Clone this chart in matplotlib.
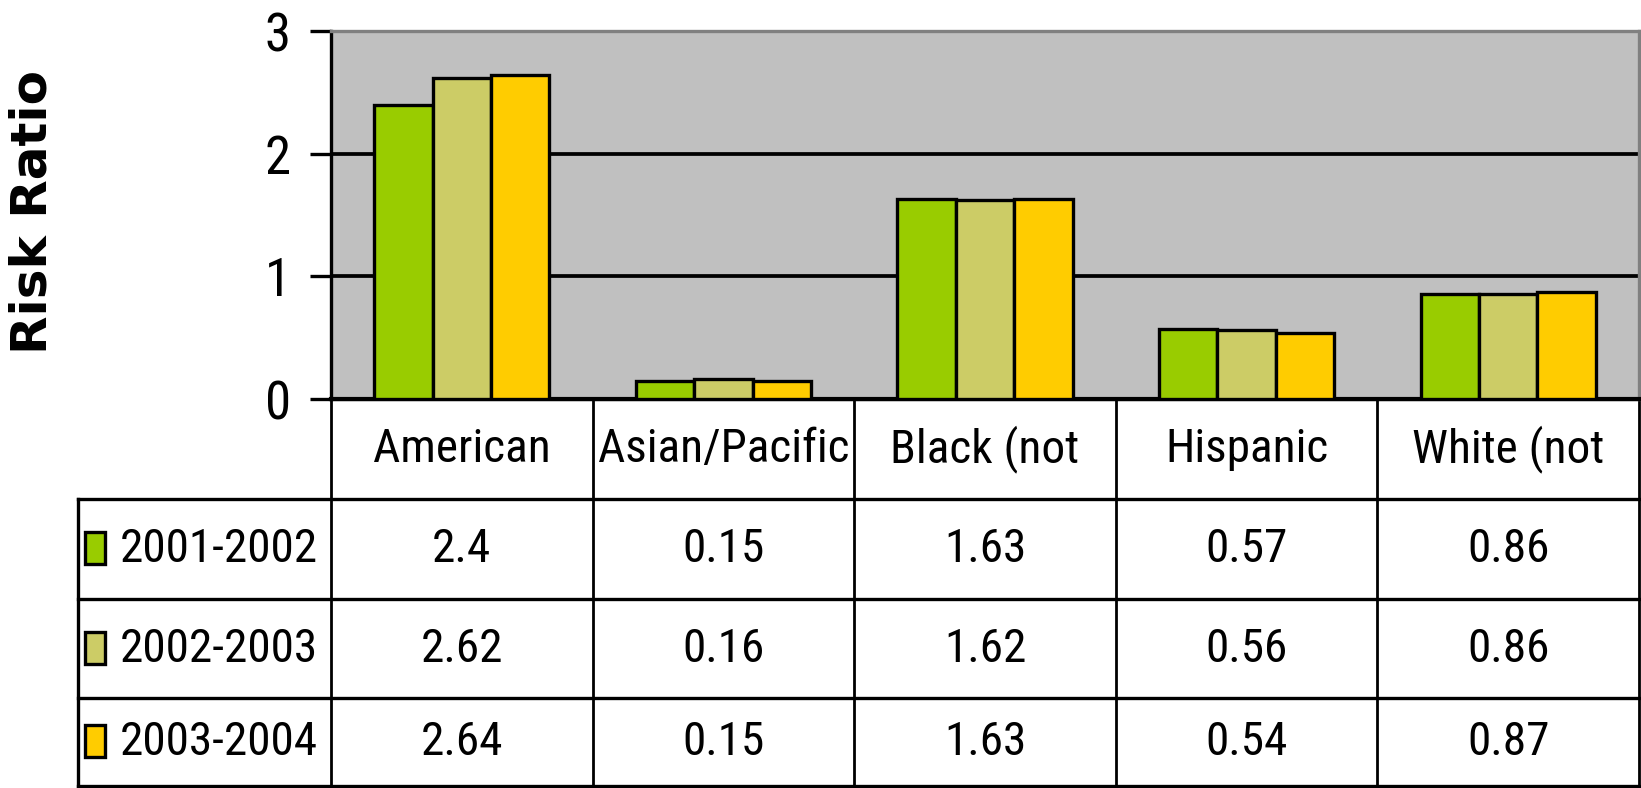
import numpy as np
import matplotlib.pyplot as plt
from matplotlib import font_manager
from matplotlib.patches import Rectangle

# ── data ──────────────────────────────────────────────────────────────────────

categories = ['American', 'Asian/Pacific', 'Black (not', 'Hispanic', 'White (not']
series     = ['2001-2002', '2002-2003', '2003-2004']
v_2001     = [2.40, 0.15, 1.63, 0.57, 0.86]
v_2002     = [2.62, 0.16, 1.62, 0.56, 0.86]
v_2003     = [2.64, 0.15, 1.63, 0.54, 0.87]
values     = [v_2001, v_2002, v_2003]
labels     = [['2.4', '0.15', '1.63', '0.57', '0.86'],
              ['2.62', '0.16', '1.62', '0.56', '0.86'],
              ['2.64', '0.15', '1.63', '0.54', '0.87']]
colors     = ['#99CC00', '#CCCC66', '#FFCC00']
yticks     = [0, 1, 2, 3]

# ── fonts: a narrow sans if one is around ─────────────────────────────────────

installed = {f.name for f in font_manager.fontManager.ttflist}
for cand in ['Liberation Sans Narrow', 'Arial Narrow', 'Roboto Condensed',
             'Archivo Narrow', 'PT Sans Narrow', 'Open Sans Condensed',
             'Fira Sans Condensed', 'IBM Plex Sans Condensed']:
    if cand in installed:
        narrow = [cand, 'Liberation Sans']
        break
else:
    narrow = ['Liberation Sans']

# ── layout (figure pixels) ────────────────────────────────────────────────────

W, H   = 1641, 788
x_ax0  = 331      # y-axis / first table column
x_ax1  = 1639     # right edge
y_top  = 31       # plot top
y_zero = 399      # plot bottom / table top
x_tab0 = 78       # left edge of legend column
rows_y = [399, 499, 599, 698, 786]
lw     = 2.4

fig = plt.figure(figsize=(W / 100, H / 100), dpi=100)

# ── bar chart ─────────────────────────────────────────────────────────────────

ax = fig.add_axes([x_ax0 / W, (H - y_zero) / H,
                   (x_ax1 - x_ax0) / W, (y_zero - y_top) / H])
ax.set_facecolor('#C0C0C0')
x  = np.arange(len(categories))
bw = 0.223
for k, (vals, c) in enumerate(zip(values, colors)):
    ax.bar(x + (k - 1) * bw, vals, bw, color=c, edgecolor='black',
           linewidth=lw, zorder=3)

ax.set_xlim(-0.5, len(categories) - 0.5)
ax.set_ylim(0, 3)
ax.set_yticks(yticks)
ax.set_yticklabels([str(t) for t in yticks], family=narrow, fontsize=38)
ax.set_xticks([])
ax.tick_params(axis='y', length=15, width=lw, pad=14)
ax.grid(axis='y', color='black', linewidth=lw + 0.3, zorder=1)
ax.set_axisbelow(True)
for side in ('top', 'right'):
    ax.spines[side].set_color('#808080')
    ax.spines[side].set_linewidth(lw)
ax.spines['left'].set_linewidth(lw)
ax.spines['bottom'].set_linewidth(lw + 0.6)

fig.text(33 / W, (H - 212) / H, 'Risk Ratio', rotation=90, fontsize=36,
         fontweight='bold', family='DejaVu Sans', ha='center', va='center')

# ── data table ────────────────────────────────────────────────────────────────

tab = fig.add_axes([0, 0, 1, 1], zorder=-1)
tab.set_xlim(0, W)
tab.set_ylim(H, 0)
tab.axis('off')

col_x = np.linspace(x_ax0, x_ax1, len(categories) + 1)

tab.plot([x_ax0, x_ax1], [rows_y[0]] * 2, color='black', lw=lw)
for yy in rows_y[1:]:
    tab.plot([x_tab0, x_ax1], [yy] * 2, color='black', lw=lw)
tab.plot([x_tab0, x_tab0], [rows_y[1], rows_y[-1]], color='black', lw=lw)
for xx in col_x:
    tab.plot([xx, xx], [rows_y[0], rows_y[-1]], color='black', lw=lw - 0.4)

for i, cat in enumerate(categories):
    tab.text(0.5 * (col_x[i] + col_x[i + 1]), 0.5 * (rows_y[0] + rows_y[1]),
             cat, ha='center', va='center', fontsize=34, family=narrow)

for r, (name, c) in enumerate(zip(series, colors)):
    yc = 0.5 * (rows_y[r + 1] + rows_y[r + 2])
    tab.add_patch(Rectangle((85, yc - 17), 20, 32, facecolor=c,
                            edgecolor='black', lw=lw))
    tab.text(120, yc, name, ha='left', va='center', fontsize=34, family=narrow)
    for i in range(len(categories)):
        tab.text(0.5 * (col_x[i] + col_x[i + 1]), yc, labels[r][i],
                 ha='center', va='center', fontsize=34, family=narrow)

fig.savefig('out.png', dpi=100)
